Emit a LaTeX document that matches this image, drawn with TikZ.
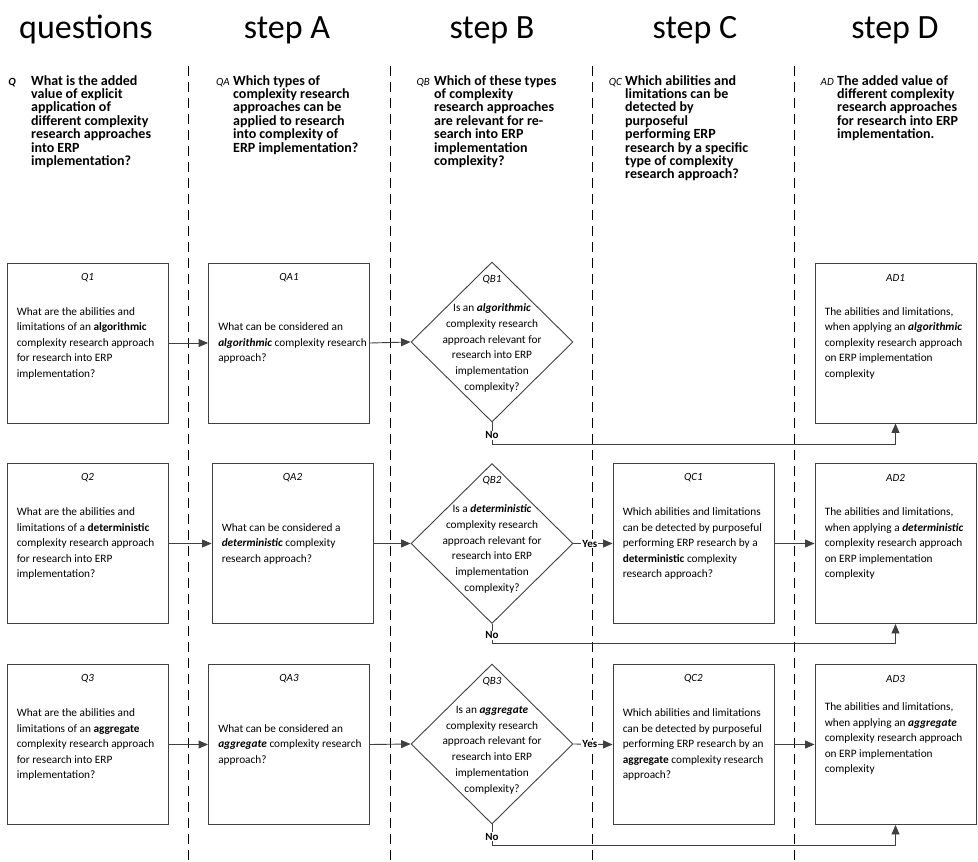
\documentclass[tikz,border=0pt]{standalone}
\usepackage{fontspec}
\setmainfont{Carlito}
\usetikzlibrary{shapes.geometric,arrows.meta,calc}
\definecolor{edge}{HTML}{404040}
\definecolor{frame}{HTML}{404040}

\begin{document}
\begin{tikzpicture}[x=1pt,y=-1pt,
  box/.style={draw=frame,line width=0.9pt,minimum width=161pt,minimum height=160pt,inner sep=0pt},
  choice/.style={diamond,draw=frame,line width=0.9pt,minimum width=162pt,minimum height=160pt,inner sep=0pt},
  tag/.style={font=\fontsize{11}{13}\selectfont\itshape,inner sep=0pt},
  body/.style={font=\fontsize{11.3}{15.5}\selectfont,align=left,inner sep=0pt,anchor=west},
  dbody/.style={font=\fontsize{11.3}{15.8}\selectfont,align=center,inner sep=0pt},
  head/.style={font=\fontsize{34}{40}\selectfont,inner sep=0pt,anchor=base},
  qhead/.style={font=\fontsize{14}{13.4}\selectfont\bfseries,align=left,inner sep=0pt,anchor=north west},
  qtag/.style={font=\fontsize{11}{13}\selectfont\itshape,inner sep=0pt,anchor=base east},
  flow/.style={draw=edge,line width=0.9pt,-{Triangle[length=9.5pt,width=8pt]}},
  lane/.style={draw=black,line width=0.9pt,dash pattern=on 10pt off 6pt},
  verdict/.style={font=\fontsize{11}{13}\selectfont\bfseries,fill=white,inner sep=1pt},
]
\newcommand{\bi}[1]{\textbf{\textit{#1}}}
\useasboundingbox (0,0) rectangle (978,862);

% swim-lane separators
\draw[lane] (188,66) -- (188,862);
\draw[lane] (390,66) -- (390,862);
\draw[lane] (592,66) -- (592,862);
\draw[lane] (794,66) -- (794,862);

% column titles
\node[head] (hq) at (86,38)  {questions};
\node[head] (ha) at (287,38) {step A};
\node[head] (hb) at (492,38) {step B};
\node[head] (hc) at (695,38) {step C};
\node[head] (hd) at (895,38) {step D};

% column questions
\node[qhead] (q0) at (31,75) {What is the added\\value of explicit\\application of\\different complexity\\research approaches\\into ERP\\implementation?};
\node[qtag] (q0t) at (16,85) {\textbf{Q}};
\node[qhead] (qa0) at (233,75) {Which types of\\complexity research\\approaches can be\\applied to research\\into complexity of\\ERP implementation?};
\node[qtag] (qa0t) at (230,85) {QA};
\node[qhead] (qb0) at (434,75) {Which of these types\\of complexity\\research approaches\\are relevant for re-\\search into ERP\\implementation\\complexity?};
\node[qtag] (qb0t) at (430,85) {QB};
\node[qhead] (qc0) at (625,75) {Which abilities and\\limitations can be\\detected by\\purposeful\\performing ERP\\research by a specific\\type of complexity\\research approach?};
\node[qtag] (qc0t) at (622,85) {QC};
\node[qhead] (ad0) at (837,75) {The added value of\\different complexity\\research approaches\\for research into ERP\\implementation.};
\node[qtag] (ad0t) at (834,85) {AD};

% ---------- row 1 : algorithmic ----------
\node[box] (Q1) at (87.5,343) {};
\node[tag] (Q1t) at ([yshift=-15pt]Q1.north) {Q1};
\node[body] (Q1b) at ([xshift=10pt]Q1.west) {What are the abilities and\\limitations of an \textbf{algorithmic}\\complexity research approach\\for research into ERP\\implementation?};

\node[box] (QA1) at (289,343) {};
\node[tag] (QA1t) at ([yshift=-15pt]QA1.north) {QA1};
\node[body] (QA1b) at ([xshift=10pt]QA1.west) {What can be considered an\\\bi{algorithmic} complexity research\\approach?};

\node[choice] (QB1) at (492,342) {};
\node[tag] (QB1t) at ([yshift=-18pt]QB1.north) {QB1};
\node[dbody] (QB1b) at (492,348) {Is an \bi{algorithmic}\\complexity research\\approach relevant for\\research into ERP\\implementation\\complexity?};

\node[box] (AD1) at (895.5,343) {};
\node[tag] (AD1t) at ([yshift=-15pt]AD1.north) {AD1};
\node[body] (AD1b) at ([xshift=10pt]AD1.west) {The abilities and limitations,\\when applying an \bi{algorithmic}\\complexity research approach\\on ERP implementation\\complexity};

% ---------- row 2 : deterministic ----------
\node[box] (Q2) at (87.5,543.5) {};
\node[tag] (Q2t) at ([yshift=-15pt]Q2.north) {Q2};
\node[body] (Q2b) at ([xshift=10pt]Q2.west) {What are the abilities and\\limitations of a \textbf{deterministic}\\complexity research approach\\for research into ERP\\implementation?};

\node[box] (QA2) at (292.5,543.5) {};
\node[tag] (QA2t) at ([yshift=-15pt]QA2.north) {QA2};
\node[body] (QA2b) at ([xshift=10pt]QA2.west) {What can be considered a\\\bi{deterministic} complexity\\research approach?};

\node[choice] (QB2) at (492,543.5) {};
\node[tag] (QB2t) at ([yshift=-18pt]QB2.north) {QB2};
\node[dbody] (QB2b) at (492,549) {Is a \bi{deterministic}\\complexity research\\approach relevant for\\research into ERP\\implementation\\complexity?};

\node[box] (QC1) at (693.5,543.5) {};
\node[tag] (QC1t) at ([yshift=-15pt]QC1.north) {QC1};
\node[body] (QC1b) at ([xshift=10pt]QC1.west) {Which abilities and limitations\\can be detected by purposeful\\performing ERP research by a\\\textbf{deterministic} complexity\\research approach?};

\node[box] (AD2) at (895.5,543.5) {};
\node[tag] (AD2t) at ([yshift=-15pt]AD2.north) {AD2};
\node[body] (AD2b) at ([xshift=10pt]AD2.west) {The abilities and limitations,\\when applying a \bi{deterministic}\\complexity research approach\\on ERP implementation\\complexity};

% ---------- row 3 : aggregate ----------
\node[box] (Q3) at (87.5,744.5) {};
\node[tag] (Q3t) at ([yshift=-15pt]Q3.north) {Q3};
\node[body] (Q3b) at ([xshift=10pt]Q3.west) {What are the abilities and\\limitations of an \textbf{aggregate}\\complexity research approach\\for research into ERP\\implementation?};

\node[box] (QA3) at (289,744.5) {};
\node[tag] (QA3t) at ([yshift=-15pt]QA3.north) {QA3};
\node[body] (QA3b) at ([xshift=10pt]QA3.west) {What can be considered an\\\bi{aggregate} complexity research\\approach?};

\node[choice] (QB3) at (492,744) {};
\node[tag] (QB3t) at ([yshift=-18pt]QB3.north) {QB3};
\node[dbody] (QB3b) at (492,750) {Is an \bi{aggregate}\\complexity research\\approach relevant for\\research into ERP\\implementation\\complexity?};

\node[box] (QC2) at (693.5,744.5) {};
\node[tag] (QC2t) at ([yshift=-15pt]QC2.north) {QC2};
\node[body] (QC2b) at ([xshift=10pt]QC2.west) {Which abilities and limitations\\can be detected by purposeful\\performing ERP research by an\\\textbf{aggregate} complexity research\\approach?};

\node[box] (AD3) at (895.5,744.5) {};
\node[tag] (AD3t) at ([yshift=-15pt]AD3.north) {AD3};
\node[body] (AD3b) at ([xshift=10pt,yshift=6pt]AD3.west) {The abilities and limitations,\\when applying an \bi{aggregate}\\complexity research approach\\on ERP implementation\\complexity};

% ---------- connectors ----------
\draw[flow] (Q1.east) -- (QA1.west);
\draw[flow] (QA1.east) -- (QB1.west);
\coordinate (no1) at (492,444);
\draw[flow] (QB1.south) -- node[verdict,pos=0.6] {No} (no1) -| (AD1.south);

\draw[flow] (Q2.east) -- (QA2.west);
\draw[flow] (QA2.east) -- (QB2.west);
\draw[flow] (QB2.east) -- node[verdict,pos=0.42] {Yes} (QC1.west);
\draw[flow] (QC1.east) -- (AD2.west);
\coordinate (no2) at (492,643);
\draw[flow] (QB2.south) -- node[verdict,pos=0.6] {No} (no2) -| (AD2.south);

\draw[flow] (Q3.east) -- (QA3.west);
\draw[flow] (QA3.east) -- (QB3.west);
\draw[flow] (QB3.east) -- node[verdict,pos=0.42] {Yes} (QC2.west);
\draw[flow] (QC2.east) -- (AD3.west);
\coordinate (no3) at (492,845);
\draw[flow] (QB3.south) -- node[verdict,pos=0.6] {No} (no3) -| (AD3.south);
\end{tikzpicture}
\end{document}
